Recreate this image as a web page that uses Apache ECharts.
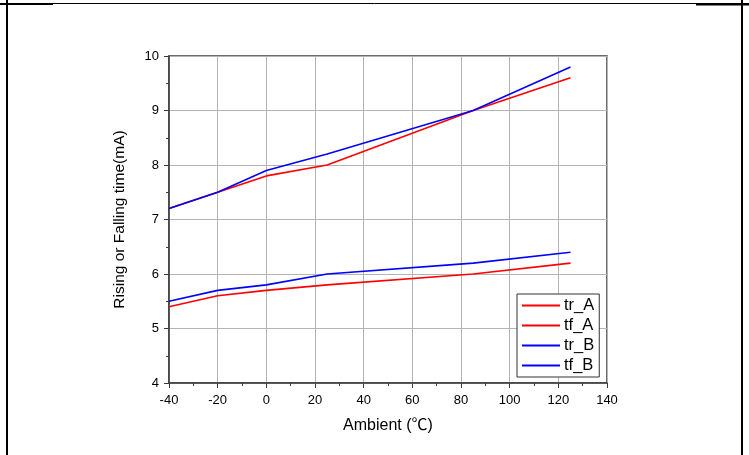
<!DOCTYPE html>
<html>
<head>
<meta charset="utf-8">
<script src="https://cdn.jsdelivr.net/npm/echarts@6/dist/echarts.min.js"></script>
<style>
  html, body { margin: 0; padding: 0; background: #fff; }
  #chart { width: 749px; height: 455px; }
</style>
</head>
<body>
<div id="chart"></div>
<script>
// ambient temperature points (℃)
const temps = [-40, -20, 0, 25, 85, 125];
// rise / fall times
const trA = [7.2, 7.5, 7.8, 8.0, 9.0, 9.6];
const tfA = [5.4, 5.6, 5.7, 5.8, 6.0, 6.2];
const trB = [7.2, 7.5, 7.9, 8.2, 9.0, 9.8];
const tfB = [5.5, 5.7, 5.8, 6.0, 6.2, 6.4];

const seriesNames = ["tr_A", "tf_A", "tr_B", "tf_B"];
const seriesValues = [trA, tfA, trB, tfB];
const seriesColors = ["#ff0000", "#ff0000", "#0000ff", "#0000ff"];

const font = "Liberation Sans, Noto Sans CJK SC, sans-serif";
const chart = echarts.init(document.getElementById("chart"));

const series = seriesNames.map((name, i) => ({
  name: name,
  type: "line",
  symbol: "none",
  data: temps.map((t, j) => [t, seriesValues[i][j]]),
  lineStyle: { width: 1.6, color: seriesColors[i] },
  itemStyle: { color: seriesColors[i] },
}));

const axisColor = "#3c3c3c";

const option = {
  backgroundColor: "#fff",
  animation: false,
  grid: {
    left: 169,
    right: 142,
    top: 56,
    bottom: 72,
    show: true,
    borderColor: axisColor,
    borderWidth: 1.5,
  },
  xAxis: {
    type: "value",
    min: -40,
    max: 140,
    interval: 20,
    name: "Ambient (℃)",
    nameLocation: "middle",
    nameGap: 35,
    nameTextStyle: { color: "#000", fontSize: 16, fontFamily: font },
    axisLine: { onZero: false, lineStyle: { color: axisColor, width: 1.5 } },
    axisTick: { show: true, length: 5, lineStyle: { color: axisColor } },
    minorTick: { show: true, splitNumber: 2, length: 3, lineStyle: { color: axisColor } },
    axisLabel: { color: "#000", fontSize: 13, fontFamily: font, margin: 11 },
    splitLine: { show: true, lineStyle: { color: "#b4b4b4", width: 1 } },
  },
  yAxis: {
    type: "value",
    min: 4,
    max: 10,
    interval: 1,
    name: "Rising or Falling time(mA)",
    nameLocation: "middle",
    nameGap: 42,
    nameTextStyle: { color: "#000", fontSize: 15.5, fontFamily: font },
    axisLine: { show: true, onZero: false, lineStyle: { color: axisColor, width: 1.5 } },
    axisTick: { show: true, length: 5, lineStyle: { color: axisColor } },
    minorTick: { show: true, splitNumber: 2, length: 3, lineStyle: { color: axisColor } },
    axisLabel: { color: "#000", fontSize: 13, fontFamily: font, margin: 10 },
    splitLine: { show: true, lineStyle: { color: "#b4b4b4", width: 1 } },
  },
  legend: {
    orient: "vertical",
    left: 517,
    top: 294,
    padding: [3, 5, 3, 5],
    itemWidth: 38,
    itemHeight: 14,
    itemGap: 3,
    icon: "path://M0,0 H38 V2 H0 Z",
    borderColor: "#333",
    borderWidth: 1,
    backgroundColor: "#fff",
    textStyle: { color: "#000", fontSize: 16.5, lineHeight: 17, fontFamily: font, padding: [0, 0, 0, -1] },
    data: seriesNames,
  },
  // page frame lines around the figure
  graphic: [
    { type: "line", shape: { x1: 7, y1: 0, x2: 7, y2: 455 }, style: { stroke: "#000", lineWidth: 2 } },
    { type: "line", shape: { x1: 742, y1: 0, x2: 742, y2: 455 }, style: { stroke: "#000", lineWidth: 2 } },
    { type: "line", shape: { x1: 0, y1: 3.5, x2: 749, y2: 3.5 }, style: { stroke: "#000", lineWidth: 1 } },
    { type: "line", shape: { x1: 0, y1: 4, x2: 53, y2: 4 }, style: { stroke: "#000", lineWidth: 2 } },
    { type: "line", shape: { x1: 696, y1: 4.5, x2: 749, y2: 4.5 }, style: { stroke: "#000", lineWidth: 2 } },
  ],
  series,
};

chart.setOption(option);
</script>
</body>
</html>
